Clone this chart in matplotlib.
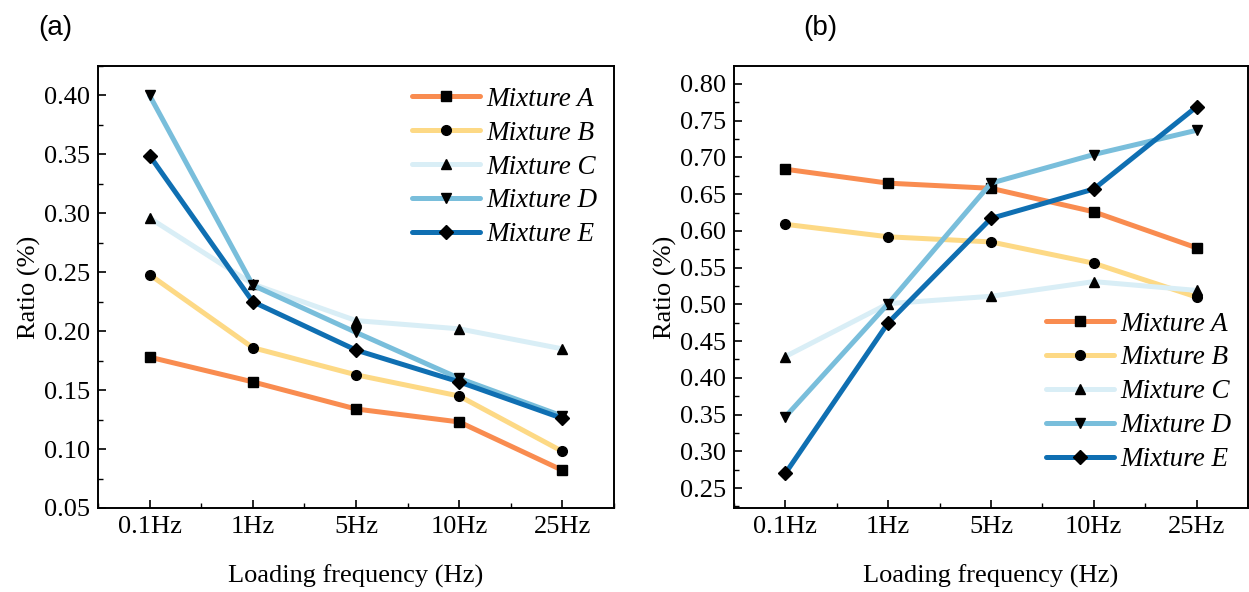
import matplotlib
matplotlib.use("Agg")
import matplotlib.pyplot as plt
from matplotlib.ticker import MultipleLocator, FormatStrFormatter

categories = ["0.1Hz", "1Hz", "5Hz", "10Hz", "25Hz"]
series_names = ["Mixture A", "Mixture B", "Mixture C", "Mixture D", "Mixture E"]

# Panel (a)
a_A = [0.178, 0.157, 0.134, 0.123, 0.082]
a_B = [0.248, 0.186, 0.163, 0.145, 0.098]
a_C = [0.296, 0.240, 0.209, 0.202, 0.185]
a_D = [0.400, 0.239, 0.199, 0.160, 0.128]
a_E = [0.349, 0.225, 0.184, 0.157, 0.126]

# Panel (b)
b_A = [0.684, 0.665, 0.658, 0.626, 0.577]
b_B = [0.609, 0.592, 0.585, 0.556, 0.510]
b_C = [0.429, 0.501, 0.511, 0.531, 0.519]
b_D = [0.347, 0.501, 0.665, 0.704, 0.737]
b_E = [0.270, 0.475, 0.617, 0.657, 0.769]

colors = ["#F98C50", "#FDD985", "#D9EEF6", "#79BEDB", "#0F6FB2"]
markers = ["s", "o", "^", "v", "D"]
msizes = [7, 7, 7.5, 7.5, 7]

plt.rcParams['font.family'] = ['Liberation Serif', 'DejaVu Serif']
plt.rcParams['mathtext.fontset'] = 'stix'

fig = plt.figure(figsize=(12.49, 5.92), dpi=100)
ax1 = fig.add_axes([98/1249, 84/592, 516/1249, 442/592])
ax2 = fig.add_axes([734/1249, 84/592, 514/1249, 442/592])

x = list(range(len(categories)))

def draw(ax, data, ylim, ymajor, legend_loc, legend_anchor):
    for vals, c, m, ms, name in zip(data, colors, markers, msizes, series_names):
        ax.plot(x, vals, color=c, lw=3.6, marker=m, markersize=ms,
                markerfacecolor='black', markeredgecolor='black',
                solid_capstyle='round', label=name)
    ax.set_xlim(-0.5, 4.5)
    ax.set_ylim(*ylim)
    ax.set_xticks(x)
    ax.set_xticklabels(categories)
    ax.xaxis.set_minor_locator(MultipleLocator(0.5))
    ax.yaxis.set_major_locator(MultipleLocator(ymajor))
    ax.yaxis.set_minor_locator(MultipleLocator(ymajor / 2))
    ax.yaxis.set_major_formatter(FormatStrFormatter('%.2f'))
    ax.tick_params(which='major', direction='in', length=6, width=1.2, labelsize=19, pad=6)
    ax.tick_params(which='minor', direction='in', length=3.5, width=1.0)
    ax.tick_params(axis='x', which='both', top=False)
    ax.tick_params(axis='y', which='both', right=False)
    for sp in ax.spines.values():
        sp.set_linewidth(1.4)
    ax.set_xlabel("Loading frequency (Hz)", fontsize=19, labelpad=19)
    ax.set_ylabel("Ratio (%)", fontsize=19, labelpad=2)
    leg = ax.legend(loc=legend_loc, bbox_to_anchor=legend_anchor, frameon=False,
                    prop={'family': 'Liberation Serif', 'style': 'italic', 'size': 19.5},
                    handlelength=2.5, handletextpad=0.25, labelspacing=0.33,
                    borderaxespad=0.2)
    return leg

draw(ax1, [a_A, a_B, a_C, a_D, a_E], (0.05, 0.425), 0.05, 'upper right', (1.0, 0.99))
draw(ax2, [b_A, b_B, b_C, b_D, b_E], (0.2228, 0.8245), 0.05, 'lower right', (1.0, 0.044))

fig.text(55/1249, 1 - 28/592, "(a)", fontsize=20, family='Liberation Sans', ha='center', va='center')
fig.text(820/1249, 1 - 28/592, "(b)", fontsize=20, family='Liberation Sans', ha='center', va='center')

fig.savefig("out.png", dpi=100)
